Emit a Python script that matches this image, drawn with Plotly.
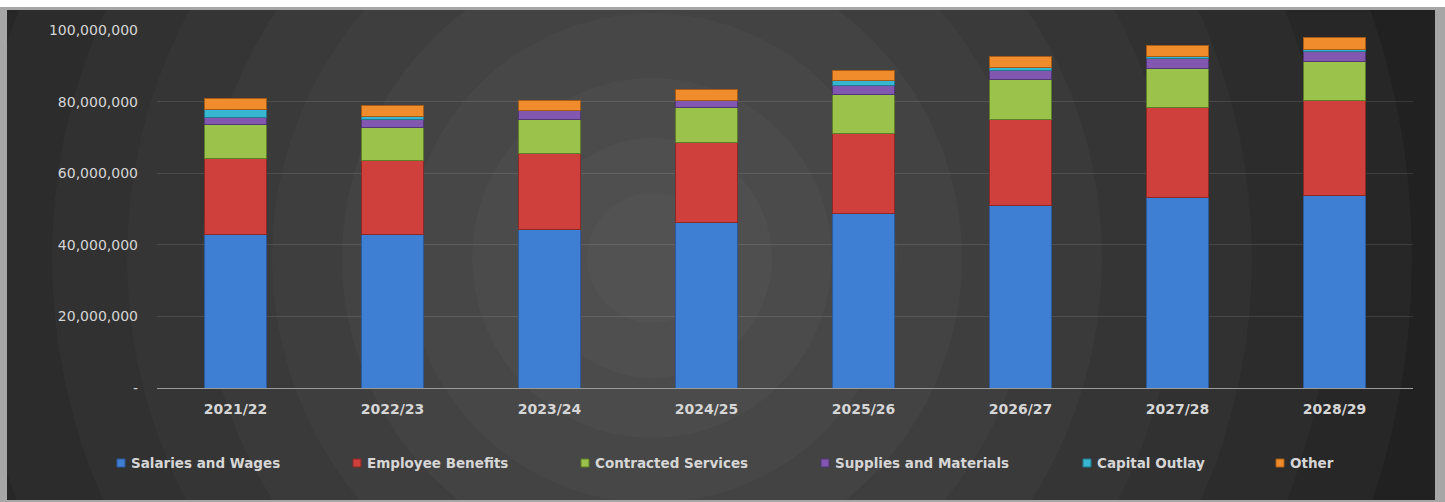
import plotly.graph_objects as go

# ---- data ----
years = ["2021/22", "2022/23", "2023/24", "2024/25", "2025/26", "2026/27", "2027/28", "2028/29"]
salaries_wages = [42_800_000, 42_800_000, 44_300_000, 46_200_000, 48_700_000, 51_100_000, 53_200_000, 53_700_000]
employee_benefits = [21_400_000, 20_700_000, 21_300_000, 22_400_000, 22_400_000, 24_000_000, 25_100_000, 26_600_000]
contracted_services = [9_500_000, 9_200_000, 9_500_000, 9_700_000, 10_800_000, 11_000_000, 11_000_000, 11_000_000]
supplies_materials = [1_900_000, 2_300_000, 2_300_000, 2_100_000, 2_600_000, 2_600_000, 2_700_000, 2_600_000]
capital_outlay = [2_200_000, 700_000, 200_000, 0, 1_300_000, 800_000, 700_000, 700_000]
other = [3_100_000, 3_300_000, 2_800_000, 3_000_000, 2_800_000, 3_000_000, 3_100_000, 3_200_000]

y_ticks = [0, 20_000_000, 40_000_000, 60_000_000, 80_000_000, 100_000_000]

series = [
    ("Salaries and Wages", salaries_wages, "#3f7fd3", "#2a5a9c"),
    ("Employee Benefits", employee_benefits, "#cf3f3c", "#8a2926"),
    ("Contracted Services", contracted_services, "#9bc24a", "#5f7e2a"),
    ("Supplies and Materials", supplies_materials, "#8257b0", "#523776"),
    ("Capital Outlay", capital_outlay, "#37b6d2", "#22788c"),
    ("Other", other, "#f08c2c", "#a65c16"),
]

# ---- page geometry (pixels) ----
W, H = 1445, 502
ML, MR, MT, MB = 157, 32, 30, 114
PW = W - ML - MR
PH = H - MT - MB


def px_x(px):
    return (px - ML) / PW


def px_y(py):
    return (MT + PH - py) / PH


TEXT = "#d6d6d6"

fig = go.Figure()
for name, values, fill, edge in series:
    fig.add_trace(go.Bar(
        name=name, x=years, y=values,
        marker=dict(color=fill, line=dict(color=edge, width=1)),
        showlegend=False,
    ))

shapes = []

# radial, banded dark background
cx, cy = 652, 258
radii = [950, 850, 760, 680, 600, 525, 450, 380, 310, 245, 180, 120, 65]
for r in radii:
    level = int(round(86 - 0.062 * r))
    c = f"rgb({level},{level},{level})"
    shapes.append(dict(
        type="circle", xref="paper", yref="paper", layer="below",
        x0=px_x(cx - r), x1=px_x(cx + r), y0=px_y(cy + r), y1=px_y(cy - r),
        fillcolor=c, line=dict(width=0),
    ))

# frame around the chart area
frame = [
    (0, 0, W, 7, "#ffffff"),
    (0, 7, W, 10, "#a6a6a6"),
    (0, 7, 7, H, "#a6a6a6"),
    (1435, 7, W, H, "#a6a6a6"),
    (0, 500, W, H, "#a6a6a6"),
]
for x0, y0, x1, y1, c in frame:
    shapes.append(dict(
        type="rect", xref="paper", yref="paper", layer="below",
        x0=px_x(x0), x1=px_x(x1), y0=px_y(y1), y1=px_y(y0),
        fillcolor=c, line=dict(width=0),
    ))

# legend row
legend_x = [121, 357, 585, 825, 1087, 1280]
legend_y = 463
annotations = []
for (name, _, fill, edge), lx in zip(series, legend_x):
    shapes.append(dict(
        type="rect", xref="paper", yref="paper", layer="above",
        xsizemode="pixel", ysizemode="pixel",
        xanchor=px_x(lx), yanchor=px_y(legend_y),
        x0=-4, x1=4, y0=-4, y1=4,
        fillcolor=fill, line=dict(color=edge, width=1),
    ))
    annotations.append(dict(
        xref="paper", yref="paper", x=px_x(lx + 8), y=px_y(legend_y),
        xanchor="left", yanchor="middle", showarrow=False, text=name,
        font=dict(family="DejaVu Sans", size=13.5, color=TEXT, weight="bold"),
    ))

fig.update_layout(
    width=W, height=H,
    margin=dict(l=ML, r=MR, t=MT, b=MB, pad=0),
    barmode="stack", bargap=0.605,
    paper_bgcolor="#2a2a2a", plot_bgcolor="rgba(0,0,0,0)",
    shapes=shapes, annotations=annotations,
    xaxis=dict(
        showgrid=False, showline=True, linecolor="#9a9a9a", linewidth=1,
        ticks="", ticklabelstandoff=8,
        tickfont=dict(family="DejaVu Sans", size=14, color=TEXT, weight="bold"),
    ),
    yaxis=dict(
        range=[0, 100_000_000], tickvals=y_ticks,
        ticktext=[f"{v:,}" if v else "-" for v in y_ticks],
        showgrid=True, gridcolor="rgba(255,255,255,0.11)", gridwidth=1,
        zeroline=False, showline=False, ticks="", ticklabelstandoff=18,
        tickfont=dict(family="DejaVu Sans", size=14, color=TEXT),
    ),
)

fig.write_html("out.html")
